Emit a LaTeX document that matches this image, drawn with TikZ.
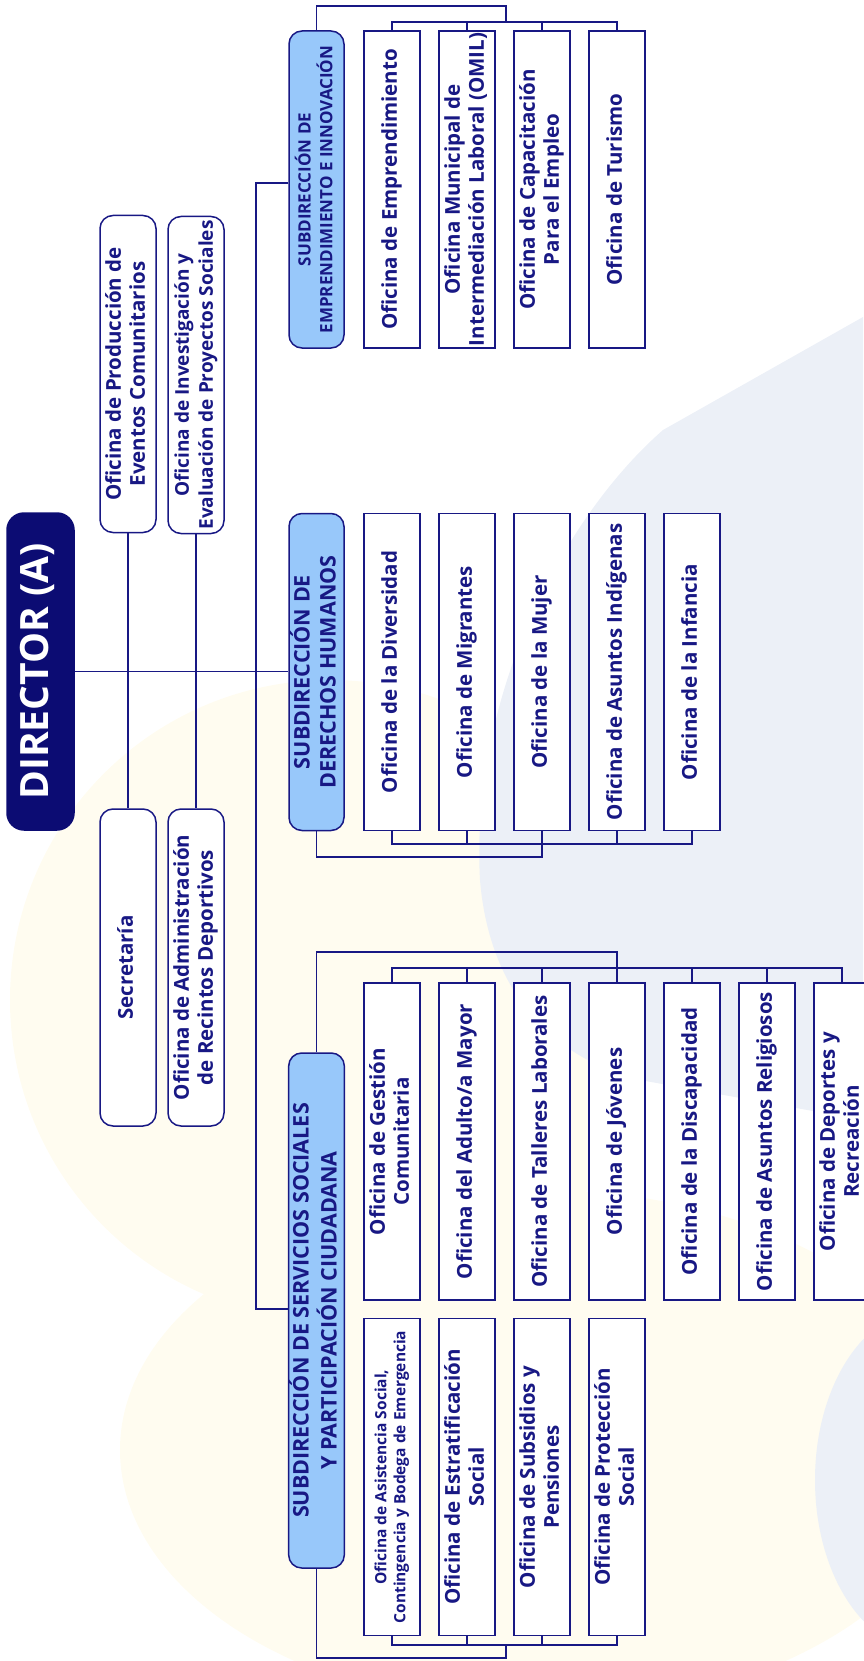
\documentclass[tikz,border=0pt]{standalone}
\usepackage{fontspec}
\setmainfont{Open Sans}[BoldFont={Open Sans Bold}]
\usepackage{graphicx}
\usetikzlibrary{calc}
\definecolor{orgnavy}{RGB}{24,24,132}
\definecolor{dirnavy}{RGB}{12,12,115}
\definecolor{subblue}{RGB}{152,200,250}
\definecolor{blobyellow}{RGB}{255,252,240}
\definecolor{blobgray}{RGB}{236,240,247}
\newcommand{\vlabel}[1]{\rotatebox{90}{\begin{tabular}{@{}c@{}}#1\end{tabular}}}

\begin{document}
\begin{tikzpicture}[x=1pt,y=-1pt]
  \tikzset{
    box/.style={draw=orgnavy,line width=1.5pt,inner sep=0pt,minimum width=56pt,minimum height=317pt,
                text=orgnavy,font=\bfseries\fontsize{20.5}{24}\selectfont},
    ofi/.style={box,fill=white},
    staff/.style={box,fill=white,rounded corners=13pt},
    sub/.style={box,fill=subblue,rounded corners=13pt,minimum width=55pt,font=\bfseries\fontsize{21.5}{26}\selectfont},
    dir/.style={box,draw=dirnavy,fill=dirnavy,text=white,rounded corners=17pt,minimum width=67pt,
                font=\bfseries\fontsize{39}{42}\selectfont},
    link/.style={draw=orgnavy,line width=1.4pt},
  }
  \useasboundingbox (0,0) rectangle (863,1661);

  % faint background shapes
  \fill[blobyellow] (330,1000) circle[radius=320pt];
  \fill[blobyellow] (540,1450) ellipse[x radius=420pt,y radius=260pt];
  \fill[blobgray] (863,317) -- (663,430) .. controls (560,520) and (470,700) .. (480,880)
        .. controls (490,1000) and (560,1060) .. (640,1080) -- (863,1120) -- cycle;
  \fill[blobgray] (925,1480) ellipse[x radius=110pt,y radius=170pt];

  % spine coordinates
  \coordinate (spineT) at (256,183);
  \coordinate (spineB) at (256,1309);
  \coordinate (empTop) at (506,6);
  \coordinate (empBar) at (0,22);
  \coordinate (dhLow) at (0,857);
  \coordinate (dhBar) at (0,844);
  \coordinate (ssTop) at (617,952);
  \coordinate (ssBar) at (0,968);
  \coordinate (ssLow) at (506,1658);
  \coordinate (ssBarB) at (0,1645);

  % director and staff offices
  \node[dir] (director) at (40.5,671.5) {\vlabel{DIRECTOR (A)}};
  \node[staff] (prod) at (128,374) {\vlabel{Oficina de Producción de\\Eventos Comunitarios}};
  \node[staff,font=\bfseries\fontsize{19}{24}\selectfont] (inv) at (196,375)
       {\vlabel{Oficina de Investigación y\\Evaluación de Proyectos Sociales}};
  \node[staff] (sec) at (128,967.5) {\vlabel{Secretaría}};
  \node[staff] (adm) at (196,967.5) {\vlabel{Oficina de Administración\\de Recintos Deportivos}};

  % emprendimiento
  \node[sub,font=\bfseries\fontsize{17}{20}\selectfont] (emp) at (316.5,189.5)
       {\vlabel{SUBDIRECCIÓN DE\\EMPRENDIMIENTO E INNOVACIÓN}};
  \node[ofi] (emp1) at (392,189.5) {\vlabel{Oficina de Emprendimiento}};
  \node[ofi] (emp2) at (467,189.5) {\vlabel{Oficina Municipal de\\Intermediación Laboral (OMIL)}};
  \node[ofi] (emp3) at (542,189.5) {\vlabel{Oficina de Capacitación\\Para el Empleo}};
  \node[ofi] (emp4) at (617,189.5) {\vlabel{Oficina de Turismo}};

  % derechos humanos
  \node[sub] (dh) at (316.5,672) {\vlabel{SUBDIRECCIÓN DE\\DERECHOS HUMANOS}};
  \node[ofi] (dh1) at (392,672) {\vlabel{Oficina de la Diversidad}};
  \node[ofi] (dh2) at (467,672) {\vlabel{Oficina de Migrantes}};
  \node[ofi] (dh3) at (542,672) {\vlabel{Oficina de la Mujer}};
  \node[ofi] (dh4) at (617,672) {\vlabel{Oficina de Asuntos Indígenas}};
  \node[ofi] (dh5) at (692,672) {\vlabel{Oficina de la Infancia}};

  % servicios sociales
  \node[sub,minimum height=515pt] (ss) at (316.5,1310.5)
       {\vlabel{SUBDIRECCIÓN DE SERVICIOS SOCIALES\\Y PARTICIPACIÓN CIUDADANA}};
  \node[ofi] (ssa1) at (392,1141.5) {\vlabel{Oficina de Gestión\\Comunitaria}};
  \node[ofi] (ssa2) at (467,1141.5) {\vlabel{Oficina del Adulto/a Mayor}};
  \node[ofi] (ssa3) at (542,1141.5) {\vlabel{Oficina de Talleres Laborales}};
  \node[ofi] (ssa4) at (617,1141.5) {\vlabel{Oficina de Jóvenes}};
  \node[ofi] (ssa5) at (692,1141.5) {\vlabel{Oficina de la Discapacidad}};
  \node[ofi] (ssa6) at (767,1141.5) {\vlabel{Oficina de Asuntos Religiosos}};
  \node[ofi] (ssa7) at (842,1141.5) {\vlabel{Oficina de Deportes y\\Recreación}};
  \node[ofi,font=\bfseries\fontsize{15.5}{19}\selectfont] (ssb1) at (392,1477)
       {\vlabel{Oficina de Asistencia Social,\\Contingencia y Bodega de Emergencia}};
  \node[ofi] (ssb2) at (467,1477) {\vlabel{Oficina de Estratificación\\Social}};
  \node[ofi] (ssb3) at (542,1477) {\vlabel{Oficina de Subsidios y\\Pensiones}};
  \node[ofi] (ssb4) at (617,1477) {\vlabel{Oficina de Protección\\Social}};

  % connectors
  \draw[link] (director.east) -- (director.east -| dh.west);
  \draw[link] (prod.south) -- (sec.north);
  \draw[link] (inv.south) -- (adm.north);
  \draw[link] (spineT -| emp.west) -- (spineT) -- (spineB) -- (spineB -| ss.west);

  \draw[link] (emp.north) |- (empTop) -- (empTop |- empBar);
  \draw[link] (emp1.north) |- (emp4.north |- empBar) -- (emp4.north)
              (emp2.north) -- (emp2.north |- empBar)
              (emp3.north) -- (emp3.north |- empBar);

  \draw[link] (dh.south) |- (dh3.south |- dhLow) -- (dh3.south);
  \draw[link] (dh1.south) |- (dh5.south |- dhBar) -- (dh5.south)
              (dh2.south) -- (dh2.south |- dhBar)
              (dh4.south) -- (dh4.south |- dhBar);

  \draw[link] (ss.north) |- (ssTop) -- (ssTop |- ssBar);
  \draw[link] (ssa1.north) |- (ssa7.north |- ssBar) -- (ssa7.north)
              (ssa2.north) -- (ssa2.north |- ssBar)
              (ssa3.north) -- (ssa3.north |- ssBar)
              (ssa4.north) -- (ssa4.north |- ssBar)
              (ssa5.north) -- (ssa5.north |- ssBar)
              (ssa6.north) -- (ssa6.north |- ssBar);

  \draw[link] (ss.south) |- (ssLow) -- (ssLow |- ssBarB);
  \draw[link] (ssb1.south) |- (ssb4.south |- ssBarB) -- (ssb4.south)
              (ssb2.south) -- (ssb2.south |- ssBarB)
              (ssb3.south) -- (ssb3.south |- ssBarB);
\end{tikzpicture}
\end{document}
